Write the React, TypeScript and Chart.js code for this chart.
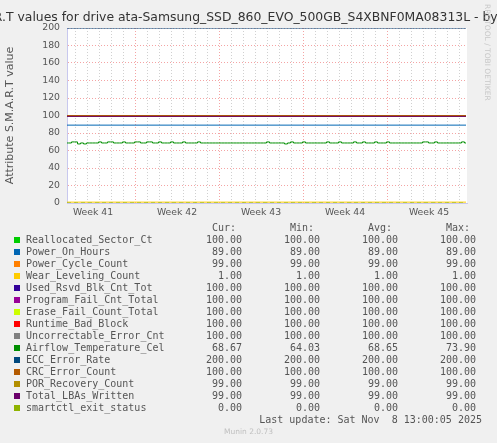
import React, { useEffect, useRef } from 'react';
import { Chart, registerables } from 'chart.js';

Chart.register(...registerables);

// ---------- data ----------
const seriesNames = [
  'Reallocated_Sector_Ct',
  'Power_On_Hours',
  'Power_Cycle_Count',
  'Wear_Leveling_Count',
  'Used_Rsvd_Blk_Cnt_Tot',
  'Program_Fail_Cnt_Total',
  'Erase_Fail_Count_Total',
  'Runtime_Bad_Block',
  'Uncorrectable_Error_Cnt',
  'Airflow_Temperature_Cel',
  'ECC_Error_Rate',
  'CRC_Error_Count',
  'POR_Recovery_Count',
  'Total_LBAs_Written',
  'smartctl_exit_status',
];

const seriesColors = [
  '#00CC00', '#0066B3', '#FF8000', '#FFCC00', '#330099',
  '#990099', '#CCFF00', '#FF0000', '#808080', '#008F00',
  '#00487D', '#B35A00', '#B38F00', '#6B006B', '#8FB300',
];

const curValues = [100, 89, 99, 1, 100, 100, 100, 100, 100, 68.67, 200, 100, 99, 99, 0];
const minValues = [100, 89, 99, 1, 100, 100, 100, 100, 100, 64.03, 200, 100, 99, 99, 0];
const avgValues = [100, 89, 99, 1, 100, 100, 100, 100, 100, 68.65, 200, 100, 99, 99, 0];
const maxValues = [100, 89, 99, 1, 100, 100, 100, 100, 100, 73.9, 200, 100, 99, 99, 0];

// Airflow temperature samples, one every 6 hours (134 samples)
const temperatureValues = [
  68.6, 68.6, 69.8, 69.8, 67.5, 68.6, 67.5, 68.6, 68.6, 68.6,
  68.6, 69.8, 68.6, 68.6, 69.8, 69.8, 68.6, 68.6, 68.6, 69.8,
  68.6, 68.6, 68.6, 69.8, 69.8, 68.6, 68.6, 69.8, 69.8, 68.6,
  68.6, 69.8, 68.6, 68.6, 68.6, 69.8, 68.6, 68.6, 68.6, 69.8,
  68.6, 68.6, 68.6, 68.6, 69.8, 68.6, 68.6, 68.6, 68.6, 68.6,
  68.6, 68.6, 68.6, 68.6, 68.6, 68.6, 68.6, 68.6, 68.6, 68.6,
  68.6, 68.6, 68.6, 68.6, 68.6, 68.6, 68.6, 69.8, 68.6, 68.6,
  68.6, 68.6, 68.6, 67.5, 68.6, 69.8, 68.6, 68.6, 68.6, 69.8,
  68.6, 68.6, 68.6, 68.6, 68.6, 68.6, 68.6, 69.8, 68.6, 68.6,
  68.6, 69.8, 68.6, 68.6, 68.6, 68.6, 69.8, 68.6, 68.6, 69.8,
  68.6, 68.6, 68.6, 69.8, 68.6, 68.6, 68.6, 69.8, 68.6, 68.6,
  68.6, 68.6, 68.6, 68.6, 68.6, 68.6, 68.6, 68.6, 68.6, 69.8,
  69.8, 68.6, 68.6, 69.8, 68.6, 68.6, 68.6, 68.6, 68.6, 68.6,
  68.6, 68.6, 69.8, 68.6,
];
const temperatureIndex = 9;
const sampleStepDays = 0.25;
const rangeDays = 33.333;

const weekLabels = ['Week 41', 'Week 42', 'Week 43', 'Week 44', 'Week 45'];
const weekLabelDays = [2.167, 9.167, 16.167, 23.167, 30.167];
const weekBoundaryDays = [5.667, 12.667, 19.667, 26.667];
const firstDayLine = 0.667;

const yMin = 0;
const yMax = 200;
const yStep = 10;
const yLabelStep = 20;

const titleText = 'S.M.A.R.T values for drive ata-Samsung_SSD_860_EVO_500GB_S4XBNF0MA08313L - by month';
const yTitle = 'Attribute S.M.A.R.T value';
const lastUpdate = 'Last update: Sat Nov  8 13:00:05 2025';
const columnHeaders = ['Cur:', 'Min:', 'Avg:', 'Max:'];

// ---------- styles ----------
const W = 497;
const H = 443;
const SANS = "'DejaVu Sans', sans-serif";
const MONO = "'DejaVu Sans Mono', monospace";
const TEXT = '#555';
const MAJOR_GRID = 'rgba(235, 90, 90, 0.55)';
const MINOR_GRID = 'rgba(150, 150, 150, 0.45)';
const AXIS = '#c8c8ee';

const bgPlugin = {
  id: 'plotBg',
  beforeDraw(chart: any) {
    const { ctx, chartArea } = chart;
    if (!chartArea) return;
    ctx.save();
    ctx.fillStyle = '#ffffff';
    ctx.fillRect(chartArea.left, chartArea.top, chartArea.right - chartArea.left, chartArea.bottom - chartArea.top);
    ctx.restore();
  },
};

export default function App() {
  const canvasRef = useRef<HTMLCanvasElement | null>(null);

  useEffect(() => {
    if (!canvasRef.current) return;
    const datasets = seriesNames.map((name, i) => {
      let data: { x: number; y: number }[];
      if (i === temperatureIndex) {
        data = temperatureValues.map((v, k) => ({ x: k * sampleStepDays, y: v }));
      } else {
        const lastX = (temperatureValues.length - 1) * sampleStepDays;
        data = [
          { x: 0, y: curValues[i] },
          { x: lastX, y: curValues[i] },
        ];
      }
      return {
        label: name,
        data,
        borderColor: seriesColors[i],
        backgroundColor: seriesColors[i],
        borderWidth: 1,
        pointRadius: 0,
        fill: false,
        stepped: i === temperatureIndex ? ('middle' as const) : false,
        borderDash: i === seriesNames.length - 1 ? [4, 3] : [],
        order: -i,
      };
    });

    const dayLines: number[] = [];
    for (let d = firstDayLine; d < rangeDays; d += 1) dayLines.push(d);
    const isWeekBoundary = (v: number) => weekBoundaryDays.some((b) => Math.abs(b - v) < 0.01);

    const chart = new Chart(canvasRef.current, {
      type: 'line',
      data: { datasets },
      plugins: [bgPlugin],
      options: {
        animation: false,
        responsive: false,
        events: [],
        layout: { padding: { top: 28, left: 0, right: 30, bottom: 220 } },
        plugins: { legend: { display: false }, tooltip: { enabled: false }, title: { display: false } },
        scales: {
          x: {
            type: 'linear',
            position: 'bottom',
            min: 0,
            max: rangeDays,
            afterBuildTicks: (scale: any) => {
              scale.ticks = dayLines.map((v) => ({ value: v }));
            },
            afterFit: (scale: any) => {
              scale.height = 0;
            },
            ticks: { display: false },
            grid: {
              drawTicks: false,
              lineWidth: 1,
              color: (ctx: any) => (isWeekBoundary(ctx.tick.value) ? MAJOR_GRID : MINOR_GRID),
            },
            border: { display: true, color: AXIS, width: 1, dash: [1, 2] },
          },
          xw: {
            type: 'linear',
            position: 'bottom',
            min: 0,
            max: rangeDays,
            afterBuildTicks: (scale: any) => {
              scale.ticks = weekLabelDays.map((v) => ({ value: v }));
            },
            afterFit: (scale: any) => {
              scale.height = 20;
            },
            ticks: {
              autoSkip: false,
              maxRotation: 0,
              padding: 4,
              color: TEXT,
              font: { family: SANS, size: 9.3 },
              callback: (_v: any, idx: number) => weekLabels[idx],
            },
            grid: { display: false, drawTicks: false },
            border: { display: false },
          },
          y: {
            type: 'linear',
            min: yMin,
            max: yMax,
            afterFit: (scale: any) => {
              scale.width = 67;
            },
            ticks: {
              stepSize: yStep,
              padding: 7,
              color: TEXT,
              font: { family: SANS, size: 9.3 },
              callback: (v: any) => (Number(v) % yLabelStep === 0 ? String(v) : ''),
            },
            grid: {
              drawTicks: false,
              lineWidth: 1,
              color: (ctx: any) => (ctx.tick.value % yLabelStep === 0 ? MAJOR_GRID : MINOR_GRID),
            },
            border: { display: true, color: AXIS, width: 1, dash: [1, 2] },
            title: {
              display: true,
              text: yTitle,
              color: TEXT,
              font: { family: SANS, size: 11 },
              padding: { top: 4, bottom: 0 },
            },
          },
        },
      },
    });
    return () => chart.destroy();
  }, []);

  const rowTop = (i: number) => 233.7 + 12 * i;
  const colRight = [242, 320, 398, 476];
  const headerRight = [236, 314, 392, 470];

  return (
    <div
      style={{
        position: 'absolute',
        left: 0,
        top: 0,
        width: W,
        height: H,
        background: '#f0f0f0',
        overflow: 'hidden',
        fontFamily: SANS,
      }}
    >
      <canvas ref={canvasRef} width={W} height={H} style={{ position: 'absolute', left: 0, top: 0, width: W, height: H }} />
      <div
        style={{
          position: 'absolute',
          left: 248.5 - 600,
          width: 1200,
          top: 9,
          textAlign: 'center',
          whiteSpace: 'nowrap',
          fontSize: 12.4,
          lineHeight: '16px',
          color: '#333',
        }}
      >
        {titleText}
      </div>
      <div
        style={{
          position: 'absolute',
          left: 483,
          top: 4,
          writingMode: 'vertical-rl',
          fontSize: 7.5,
          lineHeight: '9px',
          color: '#c8c8c8',
          whiteSpace: 'nowrap',
        }}
      >
        RRDTOOL / TOBI OETIKER
      </div>
      {columnHeaders.map((h, c) => (
        <div
          key={h}
          style={{
            position: 'absolute',
            left: headerRight[c] - 60,
            width: 60,
            top: 222,
            textAlign: 'right',
            fontFamily: MONO,
            fontSize: 10,
            lineHeight: '12px',
            color: TEXT,
            whiteSpace: 'pre',
          }}
        >
          {h}
        </div>
      ))}
      {seriesNames.map((name, i) => (
        <React.Fragment key={name}>
          <div
            style={{
              position: 'absolute',
              left: 14,
              top: rowTop(i) + 3,
              width: 6,
              height: 6,
              background: seriesColors[i],
            }}
          />
          <div
            style={{
              position: 'absolute',
              left: 26,
              top: rowTop(i),
              fontFamily: MONO,
              fontSize: 10,
              lineHeight: '12px',
              color: TEXT,
              whiteSpace: 'pre',
            }}
          >
            {name}
          </div>
          {[curValues, minValues, avgValues, maxValues].map((arr, c) => (
            <div
              key={c}
              style={{
                position: 'absolute',
                left: colRight[c] - 70,
                width: 70,
                top: rowTop(i),
                textAlign: 'right',
                fontFamily: MONO,
                fontSize: 10,
                lineHeight: '12px',
                color: TEXT,
                whiteSpace: 'pre',
              }}
            >
              {arr[i].toFixed(2)}
            </div>
          ))}
        </React.Fragment>
      ))}
      <div
        style={{
          position: 'absolute',
          left: 482 - 240,
          width: 240,
          top: 413.5,
          textAlign: 'right',
          fontFamily: MONO,
          fontSize: 10,
          lineHeight: '12px',
          color: TEXT,
          whiteSpace: 'pre',
        }}
      >
        {lastUpdate}
      </div>
      <div
        style={{
          position: 'absolute',
          left: 148.5,
          width: 200,
          top: 427,
          textAlign: 'center',
          fontSize: 7.5,
          lineHeight: '10px',
          color: '#c0c0c0',
        }}
      >
        Munin 2.0.73
      </div>
    </div>
  );
}
